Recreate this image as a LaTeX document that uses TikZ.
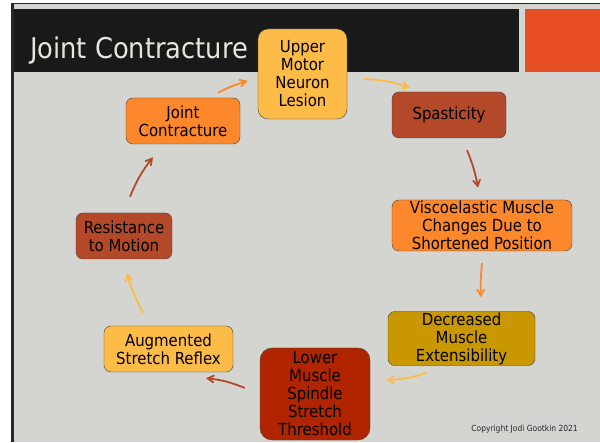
\documentclass[tikz,border=0pt]{standalone}
\usepackage{fontspec}
\setmainfont{DejaVu Sans Condensed}
\usetikzlibrary{arrows}
\definecolor{slidebg}{HTML}{D4D5D0}
\definecolor{titlebar}{HTML}{191919}
\definecolor{titleorange}{HTML}{E84E23}
\definecolor{titletext}{HTML}{E6E6DE}
\definecolor{c-yellow}{HTML}{FDBB48}
\definecolor{c-brown}{HTML}{B4492A}
\definecolor{c-orange}{HTML}{FD872B}
\definecolor{c-gold}{HTML}{C99800}
\definecolor{c-red}{HTML}{B02500}
\tikzset{
  box/.style={draw=black!75,rounded corners=7pt,align=center,inner sep=1pt,
    font=\fontsize{16.6}{18}\selectfont,text=black},
  link/.style={->,>=angle 60,line width=1.8pt}
}

\begin{document}
\begin{tikzpicture}[x=1pt,y=1pt]
  \useasboundingbox (0,0) rectangle (600,442);
  \fill[white] (0,0) rectangle (600,442);
  \fill[slidebg] (14,0) rectangle (600,438);
  \fill[black!85] (11,0) rectangle (14,439);
  \draw[black!85,line width=1.2pt] (11,438.5) -- (600,438.5);
  \fill[titlebar] (14,370) rectangle (519,433);
  \fill[titleorange] (525,370) rectangle (600,433);
  \node[anchor=base west,inner sep=0pt,text=titletext,font=\fontsize{28.6}{30}\selectfont] (title) at (30,383.5) {Joint Contracture};

  \node[box,fill=c-yellow,minimum width=89pt,minimum height=90pt,rounded corners=10pt] (C-1) at (302.5,368) {Upper\\Motor\\Neuron\\Lesion};
  \node[box,fill=c-brown,minimum width=114pt,minimum height=46pt] (C-2) at (449,327) {Spasticity};
  \node[box,fill=c-orange,minimum width=180pt,minimum height=51pt] (C-3) at (482,216.5) {Viscoelastic Muscle\\Changes Due to\\Shortened Position};
  \node[box,fill=c-gold,minimum width=147pt,minimum height=53pt] (C-4) at (461.5,103.5) {Decreased\\Muscle\\Extensibility};
  \node[box,fill=c-red,minimum width=110pt,minimum height=92pt,rounded corners=12pt] (C-5) at (315,48) {Lower\\Muscle\\Spindle\\Stretch\\Threshold};
  \node[box,fill=c-yellow,minimum width=129pt,minimum height=46pt] (C-6) at (168.5,93) {Augmented\\Stretch Reflex};
  \node[box,fill=c-brown,minimum width=96pt,minimum height=46pt] (C-7) at (124,206) {Resistance\\to Motion};
  \node[box,fill=c-orange,minimum width=114pt,minimum height=46pt] (C-8) at (183,321) {Joint\\Contracture};

  \draw[link,c-orange] ([shift={(35,5)}]C-8.north) to[bend left=6] ([shift={(-10,-7)}]C-1.west);
  \draw[link,c-yellow] ([shift={(17,-5)}]C-1.east) to[bend left=8] ([shift={(-39,4)}]C-2.north);
  \draw[link,c-brown] ([shift={(18,-12)}]C-2.south) to[bend left=6] ([shift={(-4,12)}]C-3.north);
  \draw[link,c-orange] ([shift={(0,-12)}]C-3.south) to[bend right=4] ([shift={(19.5,14)}]C-4.north);
  \draw[link,c-yellow] ([shift={(-34.5,-7)}]C-4.south) to[bend left=8] ([shift={(16,14)}]C-5.east);
  \draw[link,c-brown] ([shift={(-15,6)}]C-5.west) to[bend right=8] ([shift={(37.5,-6)}]C-6.south);
  \draw[link,c-yellow] ([shift={(-25.5,13)}]C-6.north) to[bend left=6] ([shift={(3,-14)}]C-7.south);
  \draw[link,c-brown] ([shift={(6,16)}]C-7.north) to[bend left=8] ([shift={(-30,-13)}]C-8.south);

  \node[anchor=base east,inner sep=0pt,font=\fontsize{8.4}{9}\selectfont,text=black!85] (copy) at (578,10) {Copyright Jodi Gootkin 2021};
\end{tikzpicture}
\end{document}
